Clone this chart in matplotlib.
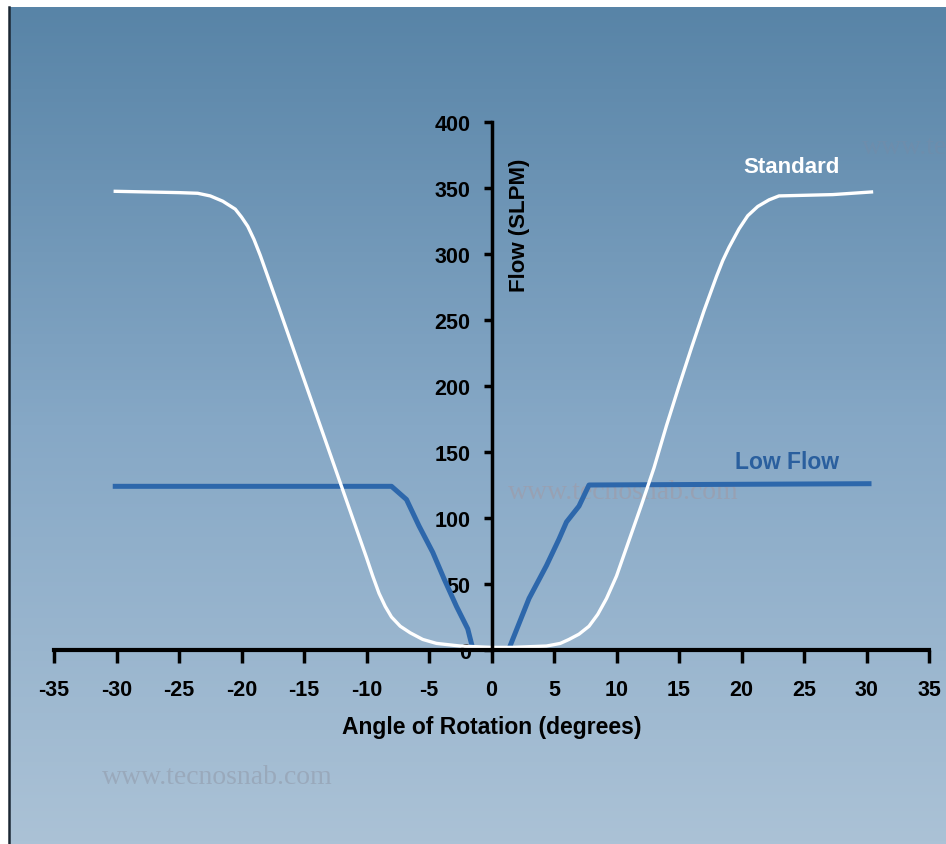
import numpy as np
import matplotlib
matplotlib.use('Agg')
import matplotlib.pyplot as plt
from matplotlib.colors import LinearSegmentedColormap

# Flow vs angle data
std_angle = [-30.1, -25.0, -23.5, -22.5, -21.5, -20.5, -20.0, -19.5, -19.0, -18.5, -17.0, -15.0,
	-13.0, -11.0, -10.0, -9.5, -9.0, -8.5, -8.0, -7.3, -6.5, -5.5, -4.4, -2.5,
	0.0, 1.7, 4.4, 5.5, 6.2, 7.0, 7.8, 8.5, 9.2, 10.0, 11.0, 12.0, 13.0, 14.0,
	15.0, 16.0, 17.0, 18.0, 18.5, 19.0, 19.8, 20.5, 21.3, 22.2, 23.0, 27.3, 30.4]
std_flow = [347.5, 346.5, 346, 344, 340, 334, 328, 321, 311, 299, 259, 205,
	151, 97, 70, 56, 43, 33, 25, 18, 13, 8, 5, 3,
	2, 2, 3, 5, 8, 12, 18, 27, 39, 56, 83, 110, 138, 170,
	200, 229, 257, 283, 295, 305, 319, 329, 336, 341, 344, 345, 347]

low_left_angle = [-30.3, -8.0, -6.8, -5.8, -4.7, -3.8, -2.8, -1.9, -1.5]
low_left_flow = [124, 124, 114, 94, 74, 54, 33, 16, 1]
low_right_angle = [1.4, 3.0, 4.4, 5.4, 6.0, 7.0, 7.8, 30.4]
low_right_flow = [1, 39, 64, 84, 97, 109, 125, 126]

x_ticks = list(range(-35, 40, 5))
y_ticks = list(range(0, 450, 50))

plt.rcParams['font.family'] = ['Liberation Sans', 'DejaVu Sans']
plt.rcParams['font.weight'] = 'bold'

fig = plt.figure(figsize=(9.46, 8.45), dpi=100)
fig.patch.set_facecolor('white')

# gradient background
bg = fig.add_axes([9/946, 0, 1 - 9/946, 1 - 8/845])
cmap = LinearSegmentedColormap.from_list('bg', [(0.0, '#5884a7'), (0.5, '#86a8c6'), (1.0, '#abc2d6')])
grad = np.linspace(0, 1, 256).reshape(-1, 1)
bg.imshow(grad, aspect='auto', cmap=cmap, extent=[0, 1, 0, 1], origin='upper')
bg.axis('off')
fig.add_artist(plt.Line2D([8.5/946, 8.5/946], [0, 1 - 8/845], color='#1b2733', lw=1.8))

# watermarks
fig.text(217/946, 1 - 777/845, 'www.tecnosnab.com', family='Liberation Serif', fontweight='normal',
	fontsize=20, color='#97a4b6', alpha=0.8, ha='center', va='center')
fig.text(862/946, 1 - 147/845, 'www.te', family='Liberation Serif', fontweight='normal',
	fontsize=20, color='#6f8dab', alpha=0.8, ha='left', va='center')

ax = fig.add_axes([54/946, 1 - 651/845, 875/946, 528/845])
ax.patch.set_alpha(0)
ax.set_xlim(-35, 35)
ax.set_ylim(0, 400)

ax.text(623/946, 1 - 493/845, 'www.tecnosnab.com', transform=fig.transFigure, family='Liberation Serif',
	fontweight='normal', fontsize=20, color='#a09aa6', alpha=0.6, ha='center', va='center', zorder=1)

ax.plot(low_left_angle, low_left_flow, color='#2d67ab', lw=3.6, solid_capstyle='butt',
	solid_joinstyle='round', zorder=3, clip_on=False)
ax.plot(low_right_angle, low_right_flow, color='#2d67ab', lw=3.6, solid_capstyle='butt',
	solid_joinstyle='round', zorder=3, clip_on=False)
ax.plot(std_angle, std_flow, color='white', lw=2.4, solid_joinstyle='round', zorder=4, clip_on=False)

for s in ['top', 'right']:
	ax.spines[s].set_visible(False)
ax.spines['left'].set_position(('data', 0))
ax.spines['bottom'].set_position(('data', 0))
ax.spines['left'].set_linewidth(2.5)
ax.spines['bottom'].set_linewidth(3)
ax.spines['left'].set_zorder(5)
ax.spines['bottom'].set_zorder(5)

ax.set_xticks(x_ticks)
ax.set_xticklabels([str(t) for t in x_ticks])
ax.set_yticks(y_ticks)
ax.set_yticklabels([str(t) for t in y_ticks])
ax.tick_params(axis='x', direction='out', length=9, width=2.5, pad=12, labelsize=15.5)
ax.tick_params(axis='y', direction='out', length=6, width=2.5, pad=9, labelsize=15.5)

ax.text(2.25, 373, 'Flow (SLPM)', rotation=90, ha='center', va='top', fontsize=16, fontweight='bold')
ax.text(0, -57.6, 'Angle of Rotation (degrees)', ha='center', va='center', fontsize=16.5,
	fontweight='bold', clip_on=False)
ax.text(24.0, 366.5, 'Standard', ha='center', va='center', fontsize=16, fontweight='bold', color='white')
ax.text(23.6, 143, 'Low Flow', ha='center', va='center', fontsize=16.5, fontweight='bold', color='#2a5f9e')

plt.savefig('out.png', dpi=100)
